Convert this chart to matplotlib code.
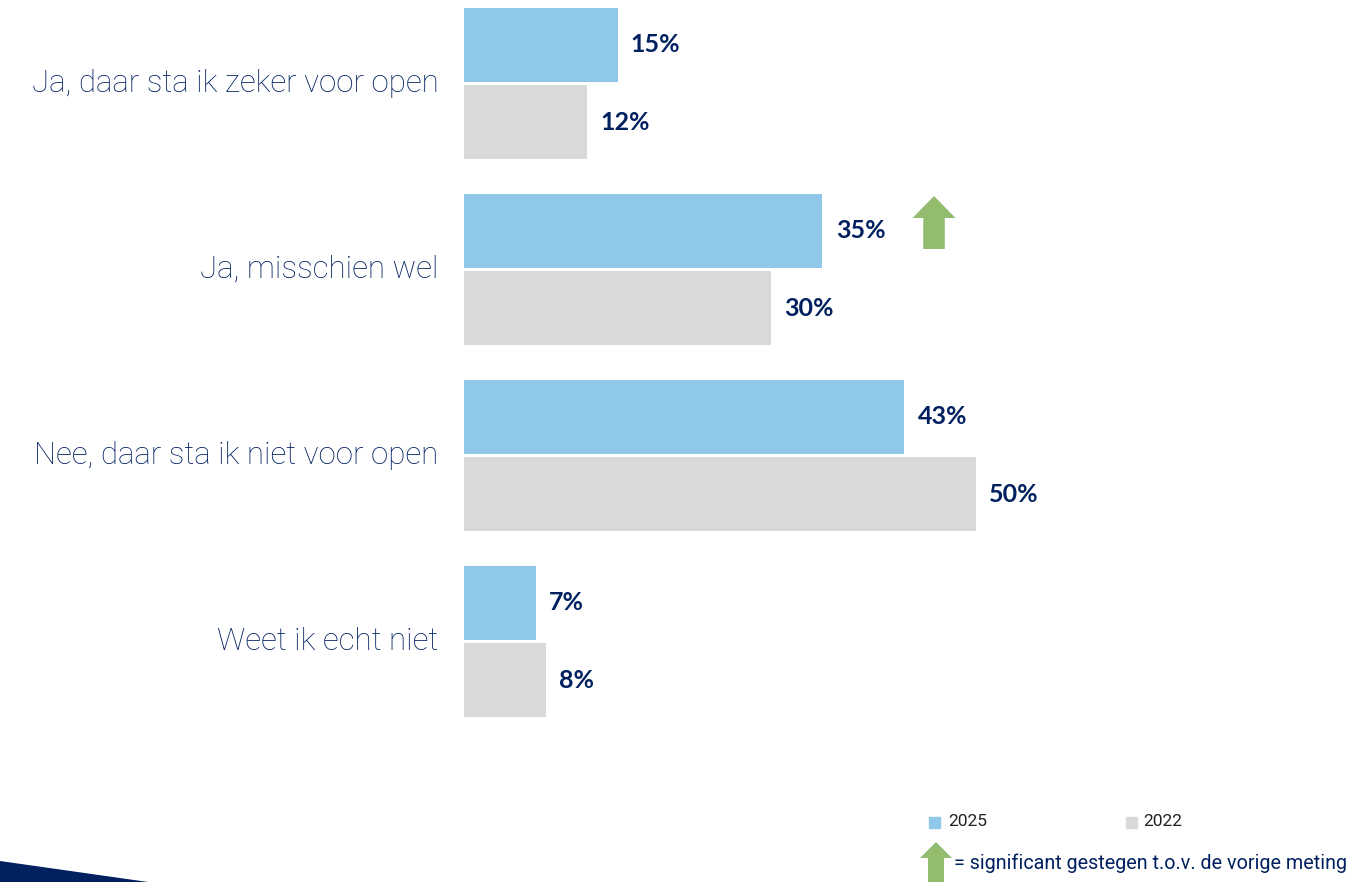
import matplotlib.pyplot as plt
import numpy as np
from matplotlib.patches import Polygon, FancyArrow

categories = ["Ja, daar sta ik zeker voor open", "Ja, misschien wel",
              "Nee, daar sta ik niet voor open", "Weet ik echt niet"]
values_2025 = [15, 35, 43, 7]
values_2022 = [12, 30, 50, 8]
series_names = ["2025", "2022"]
significant_up = [False, True, False, False]

navy = "#002060"
blue = "#8FC8E8"
grey = "#D9D9D9"
green = "#93BC6F"
label_font = ["Roboto", "DejaVu Sans"]
value_font = ["Lato", "DejaVu Sans"]

W, H = 1353, 882
fig = plt.figure(figsize=(W / 100, H / 100), dpi=100)

# axes placed in pixels: x zero at 464 px, 10.24 px per percent
x0, px_per = 464, 10.24
xmax = 85
y_top, y_bot = 0, 760
ax = fig.add_axes([x0 / W, 1 - y_bot / H, xmax * px_per / W, (y_bot - y_top) / H])
gs = 186.0  # group spacing px
c0 = 83.5   # center of group 0 px
ax.set_xlim(0, xmax)
ax.set_ylim((y_bot - c0) / gs, (y_top - c0) / gs)
ax.axis("off")

y = np.arange(len(categories))
h = 74 / gs
off = 38.5 / gs
ax.barh(y - off, values_2025, height=h, color=blue, label=series_names[0])
ax.barh(y + off, values_2022, height=h, color=grey, label=series_names[1])

for i, (a, b) in enumerate(zip(values_2025, values_2022)):
    ax.text(a + 1.3, i - off, f"{a}%", va="center", ha="left", fontsize=18,
            fontweight="bold", color=navy, family=value_font)
    ax.text(b + 1.3, i + off, f"{b}%", va="center", ha="left", fontsize=18,
            fontweight="bold", color=navy, family=value_font)
    ax.text(-2.5, i, categories[i], va="center", ha="right", fontsize=22.5,
            fontweight="light", color=navy, family=label_font, clip_on=False)
    if significant_up[i]:
        # green up arrow right of the 2025 label
        ax.add_patch(FancyArrow(a + 10.9, i - off + 18 / gs, 0, -53 / gs,
                                width=2.1, head_width=4.2, head_length=22 / gs,
                                length_includes_head=True, color=green, lw=0))


# legend and footnote in figure pixels
def fx(px):
    return px / W


def fy(py):
    return 1 - py / H


fig.patches.append(plt.Rectangle((fx(929), fy(828)), 11 / W, 11 / H,
                                 transform=fig.transFigure, color=blue))
fig.text(fx(948), fy(822), series_names[0], va="center", ha="left",
         fontsize=12.5, color="#222222", family=label_font)
fig.patches.append(plt.Rectangle((fx(1126), fy(828)), 11 / W, 11 / H,
                                 transform=fig.transFigure, color=grey))
fig.text(fx(1143), fy(822), series_names[1], va="center", ha="left",
         fontsize=12.5, color="#222222", family=label_font)

fig.patches.append(FancyArrow(fx(936), fy(882), 0, 40 / H, width=16 / W,
                              head_width=32 / W, head_length=16 / H,
                              length_includes_head=True, color=green, lw=0,
                              transform=fig.transFigure))
fig.text(fx(954), fy(863), "= significant gestegen t.o.v. de vorige meting",
         va="center", ha="left", fontsize=14.2, color=navy,
         family=label_font)

# navy wedge bottom left
fig.patches.append(Polygon([(0, fy(861)), (fx(148), 0), (0, 0)], closed=True,
                           transform=fig.transFigure, color=navy, lw=0))

fig.savefig("out.png", dpi=100)
